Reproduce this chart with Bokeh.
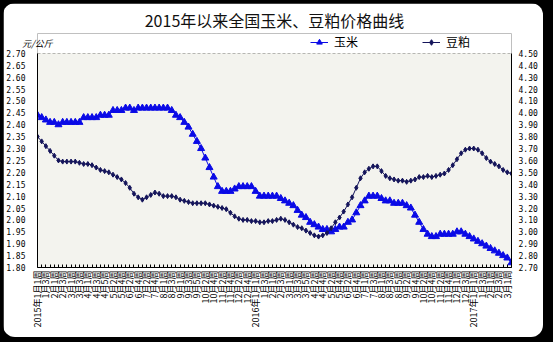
import math
from bokeh.plotting import figure
from bokeh.models import (Range1d, LinearAxis, SingleIntervalTicker, FixedTicker,
                          NumeralTickFormatter, Legend, LegendItem, BoxAnnotation)
from bokeh.layouts import column
from bokeh.embed import file_html
from bokeh.resources import INLINE

# ---- data ----
years = [2015, 2016, 2017]
weeks_per_month_2015 = [4, 4, 4, 5, 4, 4, 5, 4, 5, 4, 4, 5]
weeks_per_month_2016 = [4, 4, 5, 4, 4, 5, 4, 5, 4, 4, 5, 4]
weeks_per_month_2017 = [4, 4, 2]

corn = [2.44, 2.43, 2.42, 2.41, 2.41, 2.40, 2.41, 2.41, 2.41, 2.41,
        2.41, 2.43, 2.43, 2.43, 2.43, 2.44, 2.44, 2.44, 2.46, 2.46,
        2.46, 2.47, 2.47, 2.46, 2.47, 2.47, 2.47, 2.47, 2.47, 2.47,
        2.47, 2.47, 2.46, 2.44, 2.43, 2.41, 2.39, 2.36, 2.33, 2.30,
        2.26, 2.22, 2.18, 2.14, 2.12, 2.12, 2.12, 2.13, 2.14, 2.14,
        2.14, 2.14, 2.12, 2.10, 2.10, 2.10, 2.10, 2.10, 2.09, 2.08,
        2.07, 2.06, 2.04, 2.02, 2.01, 1.99, 1.98, 1.97, 1.96, 1.96,
        1.95, 1.96, 1.97, 1.97, 1.99, 2.00, 2.03, 2.06, 2.08, 2.10,
        2.10, 2.10, 2.09, 2.08, 2.08, 2.07, 2.07, 2.07, 2.06, 2.05,
        2.02, 1.99, 1.96, 1.94, 1.93, 1.93, 1.94, 1.94, 1.94, 1.94,
        1.95, 1.95, 1.94, 1.93, 1.92, 1.91, 1.90, 1.89, 1.88, 1.87,
        1.86, 1.85, 1.84, 1.82]

soymeal = [3.80, 3.76, 3.72, 3.68, 3.64, 3.60, 3.59, 3.59, 3.59, 3.59,
           3.58, 3.57, 3.57, 3.56, 3.54, 3.52, 3.51, 3.50, 3.48, 3.46,
           3.44, 3.41, 3.37, 3.32, 3.29, 3.27, 3.29, 3.31, 3.33, 3.32,
           3.30, 3.30, 3.30, 3.29, 3.27, 3.26, 3.25, 3.24, 3.24, 3.24,
           3.24, 3.23, 3.22, 3.21, 3.20, 3.19, 3.16, 3.13, 3.11, 3.10,
           3.10, 3.09, 3.09, 3.08, 3.08, 3.09, 3.09, 3.10, 3.11, 3.10,
           3.08, 3.06, 3.04, 3.03, 3.01, 2.99, 2.97, 2.96, 2.97, 2.99,
           3.03, 3.08, 3.12, 3.17, 3.23, 3.29, 3.37, 3.45, 3.50, 3.53,
           3.55, 3.55, 3.51, 3.47, 3.45, 3.44, 3.43, 3.43, 3.42, 3.43,
           3.44, 3.46, 3.46, 3.47, 3.46, 3.47, 3.48, 3.49, 3.52, 3.56,
           3.61, 3.66, 3.69, 3.70, 3.70, 3.69, 3.66, 3.62, 3.59, 3.57,
           3.55, 3.52, 3.50, 3.49]

left_bounds = (1.80, 2.70)
right_bounds = (2.70, 4.50)

title_text = "2015年以来全国玉米、豆粕价格曲线"
series_names = ["玉米", "豆粕"]
unit_text = "元/公斤"

# ---- week categories ----
week_labels = []
for yr, wpm in zip(years, [weeks_per_month_2015, weeks_per_month_2016, weeks_per_month_2017]):
    for m, nw in enumerate(wpm, start=1):
        for w in range(1, nw + 1):
            week_labels.append((yr, m, w))

n = len(corn)
xs = list(range(n))
overrides = {}
for i, (yr, m, w) in enumerate(week_labels[:n]):
    if i % 2 == 0:
        txt = f"{m}月{w}周"
        if m == 1 and w == 1:
            txt = f"{yr}年" + txt
        overrides[i] = txt
    else:
        overrides[i] = ""

FONT = "Noto Sans CJK SC"

# frame extends a little above the value range so the legend row fits inside it
extra_px = 20.0
frame_h_values = 216.0
lspan = left_bounds[1] - left_bounds[0]
rspan = right_bounds[1] - right_bounds[0]
ytop_left = left_bounds[1] + lspan * extra_px / frame_h_values
ytop_right = right_bounds[1] + rspan * extra_px / frame_h_values

p = figure(width=540, height=334, x_range=Range1d(0, n - 1),
           y_range=Range1d(left_bounds[0], ytop_left),
           output_backend="svg", toolbar_location=None,
           min_border_left=33, min_border_right=32, min_border_top=28, min_border_bottom=70)
p.extra_y_ranges = {"r": Range1d(right_bounds[0], ytop_right)}

p.background_fill_color = "white"
p.border_fill_color = "white"
p.outline_line_color = None

# light plot-area panel
p.add_layout(BoxAnnotation(left=0, right=n - 1, bottom=left_bounds[0], top=left_bounds[1],
                           fill_color="#f3f3ee", fill_alpha=1, line_color=None, level="underlay"))

p.title.text = title_text
p.title.align = "center"
p.title.text_font = FONT
p.title.text_font_size = "16px"
p.title.text_font_style = "normal"
p.title.text_color = "#111111"
p.title.standoff = 4

# x axis
xa = p.xaxis[0]
xa.ticker = FixedTicker(ticks=xs)
xa.major_label_overrides = overrides
xa.major_label_orientation = math.pi / 2
xa.major_label_text_font = FONT
xa.major_label_text_font_size = "9px"
xa.major_label_text_color = "black"
xa.major_tick_in = 3
xa.major_tick_out = 0
xa.minor_tick_line_color = None
xa.major_label_standoff = 3
xa.axis_line_color = "black"
xa.major_tick_line_color = "black"

# unit text above the left axis (an extra top axis carrying one label)
ua = LinearAxis(ticker=FixedTicker(ticks=[0]), major_label_overrides={0: unit_text})
ua.axis_line_color = None
ua.major_tick_line_color = None
ua.minor_tick_line_color = None
ua.major_tick_in = 0
ua.major_tick_out = 0
ua.major_label_standoff = -16
ua.major_label_text_font = FONT
ua.major_label_text_font_size = "9px"
ua.major_label_text_font_style = "italic"
ua.major_label_text_color = "black"
p.add_layout(ua, "above")

# left y axis
ya = p.yaxis[0]
ya.bounds = left_bounds
ya.ticker = SingleIntervalTicker(interval=0.05, num_minor_ticks=0)
ya.formatter = NumeralTickFormatter(format="0.00")
ya.major_tick_in = 0
ya.major_tick_out = 0
ya.major_label_standoff = 12
ya.major_label_text_font = "DejaVu Sans Mono"
ya.major_label_text_font_size = "8px"
ya.major_label_text_color = "black"
ya.axis_line_color = "black"

# right y axis
ra = LinearAxis(y_range_name="r", bounds=right_bounds,
                ticker=SingleIntervalTicker(interval=0.10, num_minor_ticks=0),
                formatter=NumeralTickFormatter(format="0.00"))
ra.major_tick_in = 0
ra.major_tick_out = 0
ra.major_label_standoff = 7
ra.major_label_text_font = "DejaVu Sans Mono"
ra.major_label_text_font_size = "8px"
ra.major_label_text_color = "black"
ra.axis_line_color = "black"
p.add_layout(ra, "right")

p.xgrid.grid_line_color = None
p.ygrid.ticker = SingleIntervalTicker(interval=0.05, num_minor_ticks=0)
p.ygrid.bounds = left_bounds
p.ygrid.grid_line_color = "black"
p.ygrid.grid_line_dash = "3 2"
p.ygrid.grid_line_width = 1

# series
corn_color = "#0a0ae6"
soy_color = "#14145a"
l1 = p.line(xs, corn, line_color=corn_color, line_width=1)
s1 = p.scatter(xs, corn, marker="triangle", size=7, fill_color=corn_color, line_color=corn_color)
l2 = p.line(xs, soymeal, line_color=soy_color, line_width=1, y_range_name="r")
s2 = p.scatter(xs, soymeal, marker="diamond", size=5, fill_color=soy_color, line_color=soy_color,
               y_range_name="r")

legend = Legend(items=[LegendItem(label=series_names[0], renderers=[l1, s1]),
                       LegendItem(label=series_names[1], renderers=[l2, s2])],
                location=(273, 217), orientation="horizontal")
legend.background_fill_alpha = 0
legend.border_line_color = None
legend.padding = 0
legend.margin = 0
legend.spacing = 64
legend.glyph_width = 18
legend.glyph_height = 14
legend.label_height = 14
legend.label_standoff = 6
legend.label_text_font = FONT
legend.label_text_font_size = "12px"
legend.label_text_color = "black"
p.add_layout(legend)

p.styles = {"border-radius": "12px", "overflow": "hidden"}
layout = column(p, styles={"background-color": "black", "padding": "3px 10px 5px 3px"})

open("out.html", "w").write(file_html(layout, INLINE))
